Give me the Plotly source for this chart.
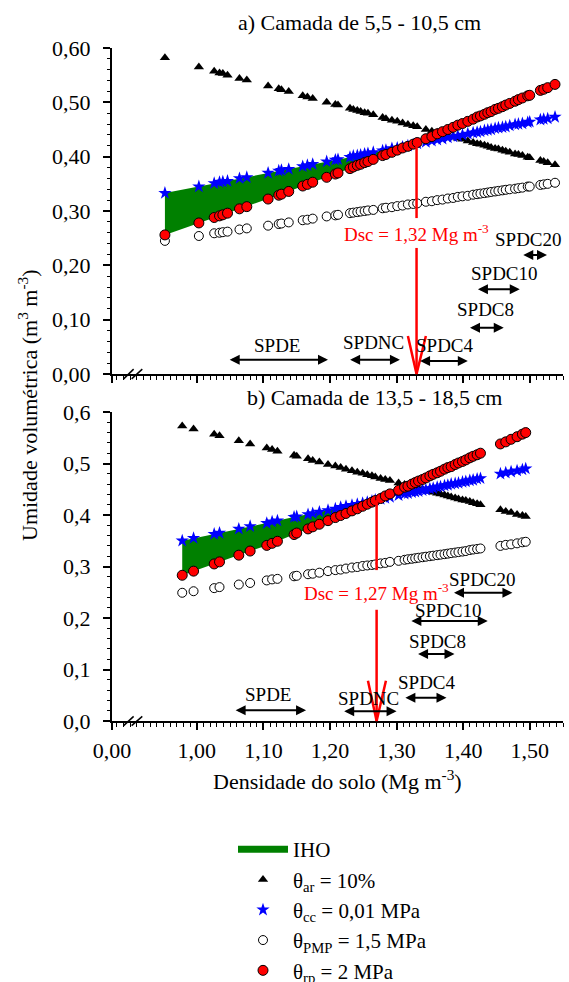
import numpy as np
import plotly.graph_objects as go

FONT = "Liberation Serif, Times New Roman, serif"

# ---------------- Panel a) Camada de 5,5 - 10,5 cm ----------------
dens_a = [0.952, 1.003, 1.026, 1.034, 1.039, 1.046, 1.064, 1.075, 1.107, 1.123,
          1.127, 1.138, 1.159, 1.166, 1.174, 1.195, 1.208, 1.212, 1.230, 1.235,
          1.241, 1.246, 1.252, 1.257, 1.265, 1.279, 1.284, 1.293, 1.301, 1.309,
          1.317, 1.325, 1.331, 1.344, 1.353, 1.361, 1.369, 1.377, 1.385, 1.392,
          1.399, 1.407, 1.415, 1.421, 1.426, 1.432, 1.437, 1.442, 1.448, 1.453,
          1.459, 1.464, 1.470, 1.478, 1.483, 1.489, 1.497, 1.500, 1.516, 1.521,
          1.527, 1.538]
ar_a = [0.582, 0.565, 0.557, 0.554, 0.553, 0.550, 0.544, 0.541, 0.530, 0.525,
        0.523, 0.520, 0.512, 0.510, 0.507, 0.500, 0.496, 0.495, 0.489, 0.487,
        0.485, 0.483, 0.481, 0.480, 0.477, 0.472, 0.470, 0.467, 0.465, 0.462,
        0.459, 0.457, 0.455, 0.450, 0.447, 0.445, 0.442, 0.439, 0.437, 0.434,
        0.432, 0.429, 0.426, 0.424, 0.423, 0.421, 0.419, 0.417, 0.415, 0.414,
        0.412, 0.410, 0.408, 0.405, 0.404, 0.402, 0.399, 0.398, 0.393, 0.391,
        0.389, 0.385]
cc_a = [0.333, 0.345, 0.351, 0.353, 0.354, 0.355, 0.360, 0.362, 0.370, 0.374,
        0.375, 0.377, 0.382, 0.384, 0.386, 0.391, 0.394, 0.395, 0.399, 0.401,
        0.402, 0.403, 0.405, 0.406, 0.408, 0.411, 0.412, 0.415, 0.416, 0.418,
        0.420, 0.422, 0.424, 0.427, 0.429, 0.431, 0.433, 0.435, 0.437, 0.438,
        0.440, 0.442, 0.444, 0.445, 0.446, 0.448, 0.449, 0.450, 0.452, 0.453,
        0.454, 0.455, 0.457, 0.459, 0.460, 0.461, 0.463, 0.464, 0.468, 0.469,
        0.470, 0.473]
pmp_a = [0.245, 0.254, 0.259, 0.260, 0.261, 0.262, 0.266, 0.268, 0.273, 0.276,
         0.277, 0.279, 0.283, 0.284, 0.286, 0.290, 0.292, 0.293, 0.296, 0.297,
         0.298, 0.299, 0.300, 0.301, 0.302, 0.305, 0.306, 0.307, 0.309, 0.310,
         0.312, 0.313, 0.314, 0.317, 0.318, 0.320, 0.321, 0.323, 0.324, 0.326,
         0.327, 0.328, 0.330, 0.331, 0.332, 0.333, 0.334, 0.335, 0.336, 0.337,
         0.338, 0.339, 0.340, 0.341, 0.342, 0.343, 0.345, 0.345, 0.348, 0.349,
         0.350, 0.352]
rp_a = [0.256, 0.278, 0.288, 0.291, 0.293, 0.296, 0.304, 0.308, 0.322, 0.329,
        0.331, 0.336, 0.346, 0.349, 0.353, 0.362, 0.368, 0.370, 0.378, 0.381,
        0.384, 0.386, 0.389, 0.391, 0.395, 0.402, 0.404, 0.408, 0.412, 0.416,
        0.419, 0.423, 0.426, 0.433, 0.437, 0.442, 0.446, 0.450, 0.454, 0.458,
        0.461, 0.465, 0.469, 0.473, 0.475, 0.478, 0.481, 0.483, 0.487, 0.489,
        0.492, 0.495, 0.498, 0.502, 0.505, 0.508, 0.512, 0.513, 0.522, 0.524,
        0.527, 0.533]
dsc_a = 1.33
dsc_text_a = "Dsc = 1,32 Mg m<sup>-3</sup>"

# ---------------- Panel b) Camada de 13,5 - 18,5 cm ----------------
dens_b = [0.978, 0.995, 1.026, 1.034, 1.063, 1.080, 1.105, 1.113, 1.121, 1.146,
          1.150, 1.167, 1.174, 1.184, 1.197, 1.208, 1.216, 1.224, 1.233, 1.241,
          1.249, 1.256, 1.263, 1.268, 1.276, 1.283, 1.290, 1.303, 1.312, 1.317,
          1.323, 1.328, 1.333, 1.339, 1.344, 1.350, 1.355, 1.361, 1.366, 1.372,
          1.377, 1.382, 1.388, 1.393, 1.399, 1.404, 1.410, 1.415, 1.421, 1.426,
          1.456, 1.464, 1.472, 1.481, 1.489, 1.494]
ar_b = [0.573, 0.567, 0.557, 0.554, 0.544, 0.538, 0.530, 0.527, 0.524, 0.516,
        0.514, 0.509, 0.506, 0.503, 0.498, 0.495, 0.492, 0.489, 0.486, 0.483,
        0.481, 0.478, 0.476, 0.474, 0.471, 0.469, 0.467, 0.462, 0.459, 0.457,
        0.455, 0.454, 0.452, 0.450, 0.448, 0.446, 0.444, 0.442, 0.441, 0.439,
        0.437, 0.435, 0.433, 0.431, 0.429, 0.428, 0.426, 0.424, 0.422, 0.420,
        0.410, 0.407, 0.405, 0.401, 0.399, 0.397]
cc_b = [0.350, 0.355, 0.363, 0.365, 0.373, 0.378, 0.384, 0.387, 0.389, 0.396,
        0.397, 0.401, 0.403, 0.406, 0.409, 0.412, 0.415, 0.417, 0.419, 0.421,
        0.423, 0.425, 0.427, 0.429, 0.431, 0.433, 0.435, 0.438, 0.441, 0.442,
        0.444, 0.445, 0.446, 0.448, 0.449, 0.451, 0.452, 0.454, 0.455, 0.457,
        0.458, 0.460, 0.461, 0.462, 0.464, 0.465, 0.467, 0.468, 0.470, 0.471,
        0.480, 0.482, 0.484, 0.486, 0.488, 0.490]
pmp_b = [0.249, 0.252, 0.258, 0.260, 0.265, 0.268, 0.273, 0.275, 0.276, 0.281,
         0.282, 0.285, 0.286, 0.288, 0.291, 0.293, 0.294, 0.296, 0.298, 0.299,
         0.301, 0.302, 0.303, 0.304, 0.306, 0.307, 0.309, 0.311, 0.313, 0.314,
         0.315, 0.316, 0.317, 0.318, 0.319, 0.320, 0.321, 0.322, 0.323, 0.324,
         0.325, 0.326, 0.327, 0.328, 0.329, 0.330, 0.332, 0.333, 0.334, 0.335,
         0.340, 0.342, 0.343, 0.345, 0.347, 0.348]
rp_b = [0.283, 0.291, 0.305, 0.309, 0.322, 0.330, 0.341, 0.345, 0.349, 0.362,
        0.365, 0.373, 0.377, 0.382, 0.389, 0.395, 0.399, 0.403, 0.408, 0.412,
        0.417, 0.421, 0.425, 0.428, 0.432, 0.437, 0.441, 0.448, 0.454, 0.456,
        0.460, 0.463, 0.466, 0.469, 0.472, 0.476, 0.479, 0.482, 0.485, 0.489,
        0.492, 0.494, 0.498, 0.501, 0.504, 0.507, 0.511, 0.514, 0.517, 0.520,
        0.538, 0.542, 0.547, 0.552, 0.557, 0.560]
dsc_b = 1.27
dsc_text_b = "Dsc = 1,27 Mg m<sup>-3</sup>"

# ---------------- SPD ranges (density interval, height) ----------------
spd_names = ["SPDE", "SPDNC", "SPDC4", "SPDC8", "SPDC10", "SPDC20"]
spd_a_lo = [1.047, 1.228, 1.333, 1.408, 1.420, 1.488]
spd_a_hi = [1.197, 1.305, 1.407, 1.461, 1.485, 1.526]
spd_a_y = [0.026, 0.026, 0.024, 0.085, 0.156, 0.219]
spd_a_lab_x = [1.121, 1.265, 1.372, 1.433, 1.462, 1.498]
spd_a_lab_y = [0.052, 0.058, 0.052, 0.119, 0.185, 0.247]

spd_b_lo = [1.056, 1.219, 1.311, 1.330, 1.320, 1.384]
spd_b_hi = [1.164, 1.300, 1.375, 1.387, 1.437, 1.474]
spd_b_y = [0.021, 0.019, 0.045, 0.130, 0.194, 0.249]
spd_b_lab_x = [1.107, 1.258, 1.345, 1.362, 1.378, 1.429]
spd_b_lab_y = [0.052, 0.043, 0.074, 0.154, 0.214, 0.274]

# ---------------- Axes ----------------
x_lo, x_hi = 0.8725, 1.55
x_tickvals = [x_lo, 1.0, 1.1, 1.2, 1.3, 1.4, 1.5]
x_ticktext = ["0,00", "1,00", "1,10", "1,20", "1,30", "1,40", "1,50"]
y_tickvals = [0.0, 0.1, 0.2, 0.3, 0.4, 0.5, 0.6]
y_ticktext_a = ["0,00", "0,10", "0,20", "0,30", "0,40", "0,50", "0,60"]
y_ticktext_b = ["0,0", "0,1", "0,2", "0,3", "0,4", "0,5", "0,6"]

W, H = 569, 982
ML, MR, MT, MB = 112, 6, 48, 261
PW, PH = W - ML - MR, H - MT - MB
dom_a = [(721 - 374) / PH, 1.0]
dom_b = [0.0, (721 - 412) / PH]

GREEN = "#008000"


def xp(x):
    return (x - x_lo) / (x_hi - x_lo)


def yp(y, dom):
    return dom[0] + y / 0.6 * (dom[1] - dom[0])


def px_x(px):
    return (px - ML) / PW


def px_y(py):
    return (MT + PH - py) / PH


fig = go.Figure()

# IHO legend entry
fig.add_trace(go.Scatter(x=[None], y=[None], mode="lines", name="IHO",
                         line=dict(color=GREEN, width=7)))

panels = [
    ("x", "y", dens_a, ar_a, cc_a, pmp_a, rp_a, dsc_a, True),
    ("x2", "y2", dens_b, ar_b, cc_b, pmp_b, rp_b, dsc_b, False),
]

for xa, ya, d, ar, cc, pmp, rp, dsc, show in panels:
    d_ = np.array(d)
    cc_ = np.array(cc)
    rp_ = np.array(rp)
    mask = (cc_ >= rp_) & (d_ < dsc)
    yi = float(np.interp(dsc, d_, cc_))
    fx = list(d_[mask]) + [dsc]
    flo = list(rp_[mask]) + [yi]
    fhi = list(cc_[mask]) + [yi]
    fig.add_trace(go.Scatter(x=fx, y=flo, xaxis=xa, yaxis=ya, mode="lines",
                             line=dict(width=0, color=GREEN), showlegend=False,
                             hoverinfo="skip"))
    fig.add_trace(go.Scatter(x=fx, y=fhi, xaxis=xa, yaxis=ya, mode="lines",
                             line=dict(width=0, color=GREEN), fill="tonexty",
                             fillcolor=GREEN, showlegend=False, hoverinfo="skip"))
    fig.add_trace(go.Scatter(x=d, y=ar, xaxis=xa, yaxis=ya, mode="markers",
                             name="θ<sub>ar</sub> = 10%", showlegend=show,
                             marker=dict(symbol="triangle-up", size=9, color="black")))
    fig.add_trace(go.Scatter(x=d, y=cc, xaxis=xa, yaxis=ya, mode="markers",
                             name="θ<sub>cc</sub> = 0,01 MPa", showlegend=show,
                             marker=dict(symbol="star", size=10, color="#0000ff",
                                         line=dict(width=0))))
    fig.add_trace(go.Scatter(x=d, y=pmp, xaxis=xa, yaxis=ya, mode="markers",
                             name="θ<sub>PMP</sub> = 1,5 MPa", showlegend=show,
                             marker=dict(symbol="circle", size=9, color="white",
                                         line=dict(width=1, color="black"))))
    fig.add_trace(go.Scatter(x=d, y=rp, xaxis=xa, yaxis=ya, mode="markers",
                             name="θ<sub>rp</sub> = 2 MPa", showlegend=show,
                             marker=dict(symbol="circle", size=10, color="#ff0000",
                                         line=dict(width=1, color="black"))))

annotations = []
shapes = []

# double arrows + labels
for xa, ya, lo, hi, yy, lx, ly in [
    ("x", "y", spd_a_lo, spd_a_hi, spd_a_y, spd_a_lab_x, spd_a_lab_y),
    ("x2", "y2", spd_b_lo, spd_b_hi, spd_b_y, spd_b_lab_x, spd_b_lab_y),
]:
    for name, a, b, y0, tx, ty in zip(spd_names, lo, hi, yy, lx, ly):
        annotations.append(dict(x=b, y=y0, ax=a, ay=y0, xref=xa, yref=ya,
                                axref=xa, ayref=ya, text="", showarrow=True,
                                arrowhead=2, arrowside="end+start", arrowsize=1,
                                arrowwidth=2, arrowcolor="black",
                                standoff=0, startstandoff=0))
        annotations.append(dict(x=tx, y=ty, xref=xa, yref=ya, text=name,
                                showarrow=False, xanchor="center", yanchor="middle",
                                font=dict(family=FONT, size=19, color="black")))

# Dsc arrows (red) with text gap
for dsc, d, cc, dom, gap_hi, gap_lo, vtop, txt, ty, xa, ya in [
    (dsc_a, dens_a, cc_a, dom_a, 0.287, 0.232, 0.07, dsc_text_a, 0.260, "x", "y"),
    (dsc_b, dens_b, cc_b, dom_b, 0.293, 0.216, 0.078, dsc_text_b, 0.251, "x2", "y2"),
]:
    ytop = float(np.interp(dsc, d, cc))
    line = dict(color="#ff0000", width=2.5)
    shapes.append(dict(type="line", xref="paper", yref="paper",
                       x0=xp(dsc), x1=xp(dsc), y0=yp(ytop, dom), y1=yp(gap_hi, dom),
                       line=line))
    shapes.append(dict(type="line", xref="paper", yref="paper",
                       x0=xp(dsc), x1=xp(dsc), y0=yp(gap_lo, dom), y1=yp(0.0, dom),
                       line=line))
    shapes.append(dict(type="path", xref="paper", yref="paper",
                       path=f"M {xp(dsc - 0.013)} {yp(vtop, dom)} L {xp(dsc)} {yp(0, dom)} "
                            f"L {xp(dsc + 0.014)} {yp(vtop, dom)}",
                       line=line))
    annotations.append(dict(x=dsc, y=ty, xref=xa, yref=ya, text=txt, showarrow=False,
                            xanchor="center", yanchor="middle",
                            font=dict(family=FONT, size=19, color="#ff0000")))

# axis break marks
for dom in (dom_a, dom_b):
    for a, b in ((0.890, 0.905), (0.902, 0.918)):
        shapes.append(dict(type="line", xref="paper", yref="paper",
                           x0=xp(a), y0=yp(-0.009, dom), x1=xp(b), y1=yp(0.009, dom),
                           line=dict(color="black", width=1.5)))


def text_ann(px, py, text, size=22, angle=0):
    return dict(x=px_x(px), y=px_y(py), xref="paper", yref="paper", text=text,
                showarrow=False, xanchor="center", yanchor="middle", textangle=angle,
                font=dict(family=FONT, size=size, color="black"))


annotations.append(text_ann(359, 23, "a) Camada de 5,5 - 10,5 cm"))
annotations.append(text_ann(374, 398, "b) Camada de 13,5 - 18,5 cm"))
annotations.append(text_ann(337, 780, "Densidade do solo (Mg m<sup>-3</sup>)"))
annotations.append(text_ann(28, 405, "Umidade volumétrica (m<sup>3</sup> m<sup>-3</sup>)",
                            angle=-90))

tickfont = dict(family=FONT, size=22, color="black")
xcommon = dict(range=[x_lo, x_hi], tickmode="array", tickvals=x_tickvals,
               ticktext=x_ticktext, ticks="outside", ticklen=7, tickwidth=1.5,
               tickcolor="black", showline=True, linecolor="black", linewidth=2,
               showgrid=False, zeroline=False, tickfont=tickfont,
               ticklabelstandoff=2, automargin=False,
               minor=dict(tickmode="linear", tick0=0, dtick=0.01, ticks="outside",
                          ticklen=3.5, tickwidth=1, tickcolor="black", showgrid=False))
ycommon = dict(range=[0, 0.6], tickmode="array", tickvals=y_tickvals,
               ticks="outside", ticklen=7, tickwidth=1.5, tickcolor="black",
               showline=True, linecolor="black", linewidth=2, showgrid=False,
               zeroline=False, tickfont=tickfont, ticklabelstandoff=8,
               automargin=False,
               minor=dict(tickmode="linear", tick0=0, dtick=0.02, ticks="outside",
                          ticklen=3.5, tickwidth=1, tickcolor="black", showgrid=False))

fig.update_layout(
    width=W, height=H,
    margin=dict(l=ML, r=MR, t=MT, b=MB, pad=0, autoexpand=False),
    paper_bgcolor="white", plot_bgcolor="white",
    xaxis=dict(**xcommon, domain=[0, 1], anchor="y", showticklabels=False),
    yaxis=dict(**ycommon, domain=dom_a, anchor="x", ticktext=y_ticktext_a),
    xaxis2=dict(**xcommon, domain=[0, 1], anchor="y2", showticklabels=True),
    yaxis2=dict(**ycommon, domain=dom_b, anchor="x2", ticktext=y_ticktext_b),
    showlegend=True,
    legend=dict(xref="container", yref="container", x=233 / W, y=1 - 829 / H,
                xanchor="left", yanchor="top", bgcolor="rgba(0,0,0,0)",
                font=dict(family=FONT, size=21, color="black"),
                itemwidth=50, tracegroupgap=0, traceorder="normal"),
    annotations=annotations,
    shapes=shapes,
)

fig.write_html("out.html",
               config={"displayModeBar": False},
               post_script="document.body.style.margin='0px';"
                           "document.documentElement.style.overflow='hidden';")
